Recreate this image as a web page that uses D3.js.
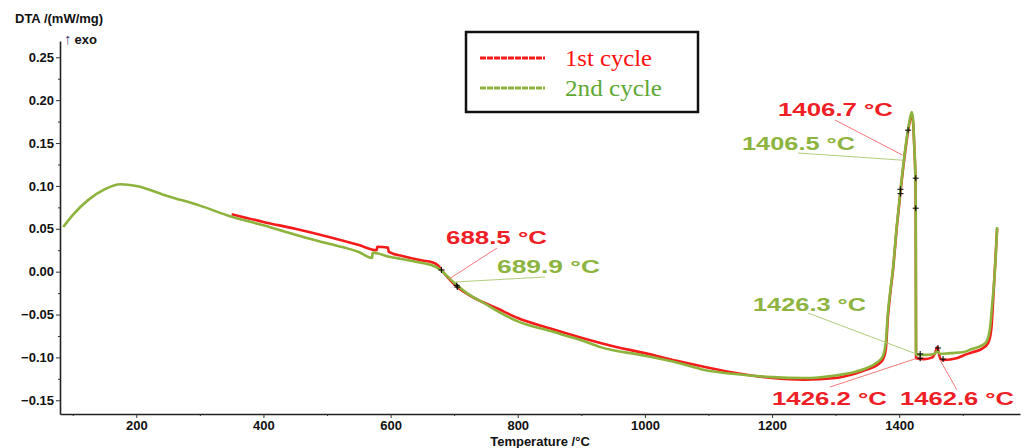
<!DOCTYPE html>
<html>
<head>
<meta charset="utf-8">
<script src="https://cdn.jsdelivr.net/npm/d3@7"></script>
<style>
body{margin:0;background:#fff;}
svg{display:block;}
text{font-family:"Liberation Sans",Arial,sans-serif;}
</style>
</head>
<body>
<script>
// DTA curves, [temperature °C, DTA mW/mg]
var cycle1 = [
 [350,0.067],[400,0.058],[450,0.050],[500,0.041],[550,0.031],[578,0.025],[579,0.029],
 [596,0.028],[597,0.023],[620,0.018],[650,0.013],[665,0.011],[675,0.007],[680,0.002],
 [694,-0.010],[705,-0.018],[730,-0.030],[768,-0.043],[800,-0.054],[850,-0.066],
 [900,-0.077],[950,-0.087],[1000,-0.095],[1050,-0.104],[1100,-0.112],[1150,-0.119],
 [1200,-0.124],[1250,-0.126],[1300,-0.124],[1330,-0.119],[1350,-0.114],[1365,-0.109],
 [1374,-0.103],[1379,-0.090],[1382,-0.055],[1386,-0.025],[1390,0.000],[1396,0.050],
 [1402,0.093],[1408,0.132],[1414,0.164],[1418,0.180],[1420,0.184],[1422,0.172],
 [1424,0.140],[1425.5,0.108],[1426,0.070],[1426.5,-0.101],[1440,-0.102],[1452,-0.100],
 [1457,-0.094],[1460,-0.088],[1462,-0.094],[1465,-0.102],[1470,-0.103],[1490,-0.101],
 [1500,-0.098],[1515,-0.094],[1530,-0.090],[1540,-0.083],[1545,-0.066],[1548,-0.030],
 [1551,0.010],[1554,0.050]
];
var cycle2 = [
 [85,0.052],[100,0.066],[125,0.084],[150,0.096],[175,0.102],[200,0.100],[250,0.088],
 [300,0.077],[350,0.064],[400,0.054],[450,0.043],[500,0.033],[550,0.023],[571,0.016],
 [571.5,0.022],[600,0.017],[630,0.013],[650,0.010],[670,0.006],[680,0.001],[690,-0.006],
 [700,-0.013],[720,-0.025],[750,-0.038],[768,-0.046],[800,-0.058],[850,-0.069],
 [900,-0.080],[930,-0.088],[1000,-0.098],[1050,-0.106],[1090,-0.114],[1150,-0.120],
 [1200,-0.123],[1250,-0.124],[1300,-0.121],[1330,-0.117],[1350,-0.112],[1365,-0.106],
 [1374,-0.099],[1379,-0.082],[1382,-0.050],[1386,-0.022],[1390,0.002],[1396,0.052],
 [1402,0.095],[1408,0.134],[1414,0.166],[1418,0.182],[1420,0.186],[1422,0.175],
 [1424,0.142],[1425.5,0.110],[1426,0.072],[1426.5,-0.097],[1440,-0.097],[1455,-0.096],
 [1460,-0.093],[1465,-0.096],[1480,-0.095],[1500,-0.094],[1515,-0.090],[1530,-0.086],
 [1537,-0.082],[1543,-0.065],[1546,-0.040],[1549,-0.015],[1552,0.020],[1554,0.052]
];
var seriesNames = ["1st cycle","2nd cycle"];
var xTicks = [200,400,600,800,1000,1200,1400];
var xMinor = [100,300,500,700,900,1100,1300,1500];
var yTicks = [0.25,0.20,0.15,0.10,0.05,0.00,-0.05,-0.10,-0.15];
var yMinor = [0.225,0.175,0.125,0.075,0.025,-0.025,-0.075,-0.125];
// evaluated points (crosses)
var marks = [
 [680,0.002],[705,-0.018],[704,-0.016],[1414,0.165],[1402,0.096],[1402,0.091],
 [1426,0.109],[1426,0.074],[1433,-0.096],[1433,-0.101],[1461,-0.089],[1469,-0.102]
];
// annotation labels: text, series (0 red / 1 green), anchor temperature, anchor value
var annoText = ["688.5 °C","689.9 °C","1406.7 °C","1406.5 °C","1426.3 °C","1426.2 °C","1462.6 °C"];
var annoSeries = [0,1,0,1,1,0,0];
var annoT = [691,702,1405,1405,1427,1428,1465];
var annoV = [-0.009,-0.012,0.136,0.130,-0.096,-0.101,-0.104];

var W = 1029, H = 448;
var red = "#f41b1b", green = "#8cb33c";
var redText = "#ee2026", greenText = "#8db43f";

var svg = d3.select("body").append("svg").attr("width",W).attr("height",H);

var x = d3.scaleLinear().domain([80,1590]).range([60,1020]);
var y = d3.scaleLinear().domain([-0.166,0.269]).range([414,41]);

// axes
var fmt = function(d){ return d3.format(".2f")(d).replace("-","\u2212"); };
var yAxis = svg.append("g").attr("transform","translate(60,0)")
  .call(d3.axisLeft(y).tickValues(yTicks).tickFormat(fmt).tickSize(4).tickSizeOuter(0));
svg.append("g").attr("transform","translate(60,0)")
  .call(d3.axisLeft(y).tickValues(yMinor).tickFormat("").tickSize(2).tickSizeOuter(0))
  .select(".domain").remove();
var xAxis = svg.append("g").attr("transform","translate(0,414)")
  .call(d3.axisBottom(x).tickValues(xTicks).tickFormat(d3.format("d")).tickSize(4).tickSizeOuter(0));
svg.append("g").attr("transform","translate(0,414)")
  .call(d3.axisBottom(x).tickValues(xMinor).tickFormat("").tickSize(2).tickSizeOuter(0))
  .select(".domain").remove();

svg.selectAll(".domain").attr("stroke","#222").attr("stroke-width",1.6);
svg.selectAll(".tick line").attr("stroke","#333");
yAxis.selectAll("text").attr("x",-6).style("font-size","13px").style("font-weight","bold")
  .attr("fill","#111").style("font-family","Liberation Sans, Arial, sans-serif");
xAxis.selectAll("text").attr("y",7).style("font-size","13px").style("font-weight","bold")
  .attr("fill","#111").style("font-family","Liberation Sans, Arial, sans-serif");

svg.append("text").attr("x",15).attr("y",23).text("DTA /(mW/mg)")
  .style("font-size","13px").style("font-weight","bold").attr("fill","#111");
svg.append("text").attr("x",64).attr("y",44).style("font-size","13px").style("font-weight","bold")
  .attr("fill","#111")
  .call(function(t){
    t.append("tspan").attr("fill","#4a3a6a").style("font-weight","normal").style("font-size","15px").text("\u2191");
    t.append("tspan").attr("dx",3).text("exo");
  });
svg.append("text").attr("x",540).attr("y",446).attr("text-anchor","middle")
  .text("Temperature /°C").style("font-size","13px").style("font-weight","bold").attr("fill","#111");

// curves
var line = d3.line().x(function(d){return x(d[0]);}).y(function(d){return y(d[1]);})
  .curve(d3.curveMonotoneX);
svg.append("path").datum(cycle1).attr("d",line).attr("fill","none")
  .attr("stroke",red).attr("stroke-width",2.6).attr("stroke-linejoin","round");
svg.append("path").datum(cycle2).attr("d",line).attr("fill","none")
  .attr("stroke",green).attr("stroke-width",2.6).attr("stroke-linejoin","round");

// crosses
var cross = svg.append("g").attr("stroke","#111").attr("stroke-width",1.1);
marks.forEach(function(m){
  var cx = x(m[0]), cy = y(m[1]);
  cross.append("line").attr("x1",cx-3).attr("x2",cx+3).attr("y1",cy).attr("y2",cy);
  cross.append("line").attr("x1",cx).attr("x2",cx).attr("y1",cy-3).attr("y2",cy+3);
});

// annotation layout: label left x, baseline y, label width, leader start x,y
var annoLayout = [
 [446,244,101,497,248],[497,273,103,545,277],[778,116,115,835,120],[742,150,113,798,153],
 [753,311,113,808,313],[772,405,115,830,387],[900,405,114,957,390]
];
annoText.forEach(function(t,i){
  var L = annoLayout[i];
  var c = annoSeries[i] === 0 ? redText : greenText;
  svg.append("line").attr("x1",L[3]).attr("y1",L[4])
    .attr("x2",x(annoT[i])).attr("y2",y(annoV[i]))
    .attr("stroke", annoSeries[i] === 0 ? "#f46a6a" : "#a9c66e").attr("stroke-width",0.9);
  svg.append("text").attr("x",L[0]).attr("y",L[1]).text(t)
    .attr("textLength",L[2]).attr("lengthAdjust","spacingAndGlyphs")
    .style("font-size","19px").style("font-weight","bold").attr("fill",c);
});

// legend
var lg = svg.append("g");
lg.append("rect").attr("x",466).attr("y",32).attr("width",232).attr("height",80)
  .attr("fill","#fff").attr("stroke","#111").attr("stroke-width",2.5);
var legColors = [red, green], legText = ["#ff1010","#5ea935"], legLen = [87,97];
seriesNames.forEach(function(n,i){
  var ly = 58 + i*30;
  lg.append("line").attr("x1",480).attr("x2",545).attr("y1",ly).attr("y2",ly)
    .attr("stroke",legColors[i]).attr("stroke-width",3).attr("stroke-dasharray","6,1");
  lg.append("text").attr("x",565).attr("y",ly+8).text(n)
    .attr("textLength",legLen[i]).attr("lengthAdjust","spacingAndGlyphs")
    .style("font-family","'Liberation Serif','Times New Roman',serif").style("font-size","24px")
    .attr("fill",legText[i]);
});
</script>
</body>
</html>
